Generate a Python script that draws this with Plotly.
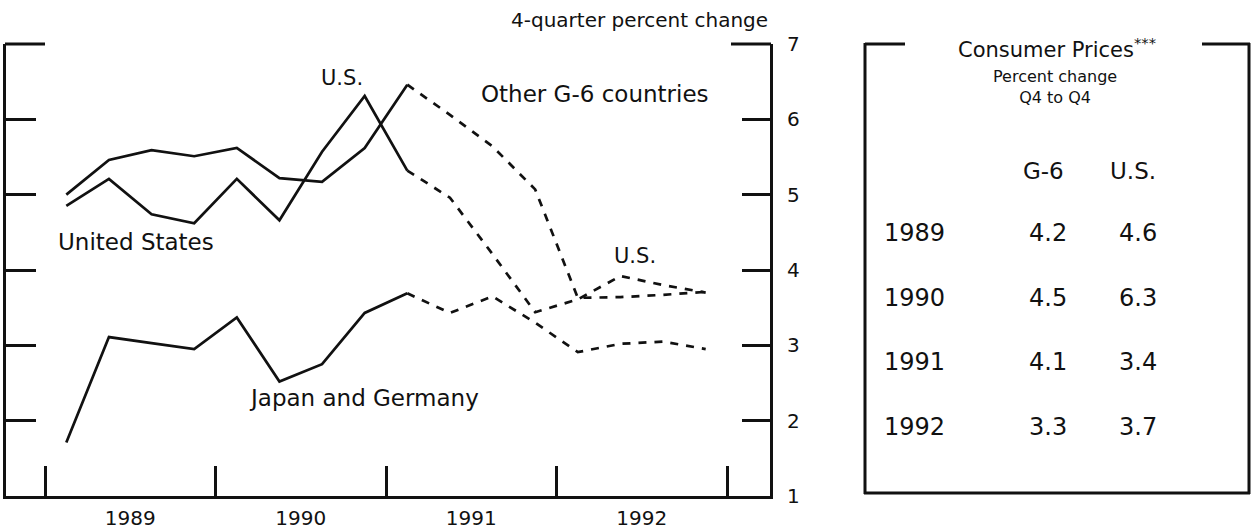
import plotly.graph_objects as go

# ---------------- data ----------------
quarters = ["1989Q1", "1989Q2", "1989Q3", "1989Q4",
            "1990Q1", "1990Q2", "1990Q3", "1990Q4",
            "1991Q1", "1991Q2", "1991Q3", "1991Q4",
            "1992Q1", "1992Q2", "1992Q3", "1992Q4"]
us_values = [4.85, 5.21, 4.74, 4.62, 5.21, 4.66, 5.57, 6.31,
             5.32, 4.96, 4.21, 3.44, 3.61, 3.92, 3.80, 3.70]
other_g6_values = [5.00, 5.46, 5.59, 5.51, 5.62, 5.22, 5.17, 5.62,
                   6.46, 6.06, 5.64, 5.07, 3.63, 3.64, 3.67, 3.71]
japan_germany_values = [1.71, 3.11, 3.03, 2.95, 3.37, 2.52, 2.75, 3.43,
                        3.69, 3.43, 3.65, 3.30, 2.91, 3.02, 3.05, 2.95]
forecast_start = "1991Q1"

year_ticks = [1989, 1990, 1991, 1992, 1993]
year_labels = ["1989", "1990", "1991", "1992"]
y_ticks = [1, 2, 3, 4, 5, 6, 7]

table_years = ["1989", "1990", "1991", "1992"]
table_g6 = ["4.2", "4.5", "4.1", "3.3"]
table_us = ["4.6", "6.3", "3.4", "3.7"]

# ---------------- geometry (page pixels) ----------------
W, H = 1252, 531
LEFT, RIGHT, TOP, BOTTOM = 6, 770, 44, 496          # plot frame in page pixels
ML, MR, MT, MB = LEFT, W - RIGHT, TOP, H - BOTTOM
PW, PH = W - ML - MR, H - MT - MB
FONT = "DejaVu Sans"
INK = "#111111"


def PX(x):
    return (x - ML) / PW


def PY(y):
    return (H - MB - y) / PH


def qpos(label):
    return int(label[:4]) + (int(label[-1]) - 0.5) / 4


xs = [qpos(q) for q in quarters]
k = quarters.index(forecast_start)
scale = (727 - 45) / 4.0
xrange_ = [1989 - (45 - LEFT) / scale, 1993 + (RIGHT - 727) / scale]

fig = go.Figure()
for vals in (us_values, other_g6_values, japan_germany_values):
    fig.add_trace(go.Scatter(x=xs[:k + 1], y=vals[:k + 1], mode="lines",
                             line=dict(color=INK, width=2.7),
                             showlegend=False, hoverinfo="skip"))
    fig.add_trace(go.Scatter(x=xs[k:], y=vals[k:], mode="lines",
                             xaxis="x2", yaxis="y2",
                             line=dict(color=INK, width=2.7, dash="8px,8px"),
                             showlegend=False, hoverinfo="skip"))

fig.update_layout(
    width=W, height=H,
    margin=dict(l=ML, r=MR, t=MT, b=MB, autoexpand=False),
    paper_bgcolor="white", plot_bgcolor="white",
    font=dict(family=FONT, color=INK),
    xaxis=dict(range=xrange_, tickvals=year_ticks, ticks="inside", ticklen=30,
               tickwidth=2.5, tickcolor=INK, showticklabels=False,
               showline=True, linewidth=3, linecolor=INK,
               showgrid=False, zeroline=False, fixedrange=True),
    xaxis2=dict(range=xrange_, overlaying="x", anchor="y2", side="bottom",
                tickvals=[y + 0.5 for y in year_ticks[:-1]], ticktext=year_labels,
                ticks="", showline=False, showgrid=False, zeroline=False,
                tickfont=dict(size=20, family=FONT, color=INK),
                ticklabelstandoff=8, fixedrange=True),
    yaxis=dict(range=[1, 7], side="right", tickvals=y_ticks,
               ticktext=[str(v) for v in y_ticks],
               ticks="inside", ticklen=28, tickwidth=2.5, tickcolor=INK,
               showline=True, linewidth=3, linecolor=INK,
               showgrid=False, zeroline=False,
               tickfont=dict(size=20, family=FONT, color=INK),
               ticklabelstandoff=10, fixedrange=True),
    yaxis2=dict(range=[1, 7], overlaying="y", anchor="x2", side="left",
                tickvals=y_ticks[1:-1],
                ticks="inside", ticklen=30, tickwidth=2.5, tickcolor=INK,
                showticklabels=False, showline=True, linewidth=3, linecolor=INK,
                showgrid=False, zeroline=False, fixedrange=True),
)

# frame stubs and table box (page pixels)
lines = [
    (LEFT - 1, 44, 45, 44), (731, 44, 771, 44),        # top stubs of chart
    (865, 44, 905, 44), (1202, 44, 1250, 44),         # top stubs of table box
    (865, 43, 865, 494), (1249, 43, 1249, 494), (864, 493, 1250, 493),
]
for x0, y0, x1, y1 in lines:
    fig.add_shape(type="line", xref="paper", yref="paper",
                  x0=PX(x0), y0=PY(y0), x1=PX(x1), y1=PY(y1),
                  line=dict(color=INK, width=3))


def note(text, x, y, size, xanchor="center"):
    fig.add_annotation(text=text, xref="paper", yref="paper", x=PX(x), y=PY(y),
                       xanchor=xanchor, yanchor="middle", showarrow=False,
                       font=dict(size=size, family=FONT, color=INK))


note("4-quarter percent change", 770, 20, 20, xanchor="right")
note("U.S.", 342, 78, 21)
note("Other G-6 countries", 595, 94, 23)
note("United States", 136, 242, 23)
note("U.S.", 635, 256, 21)
note("Japan and Germany", 364, 398, 23)

note("Consumer Prices<sup>***</sup>", 1057, 48, 21)
note("Percent change<br>Q4 to Q4", 1055, 87, 16)
note("G-6", 1043, 171, 23)
note("U.S.", 1133, 171, 23)
for i, yr in enumerate(table_years):
    ypix = 233 + i * 64.7
    note(yr, 914, ypix, 24)
    note(table_g6[i], 1048, ypix, 24)
    note(table_us[i], 1138, ypix, 24)

fig.write_html("out.html",
               config={"displayModeBar": False},
               post_script="document.body.style.margin='0';"
                           "document.body.style.overflow='hidden';")
